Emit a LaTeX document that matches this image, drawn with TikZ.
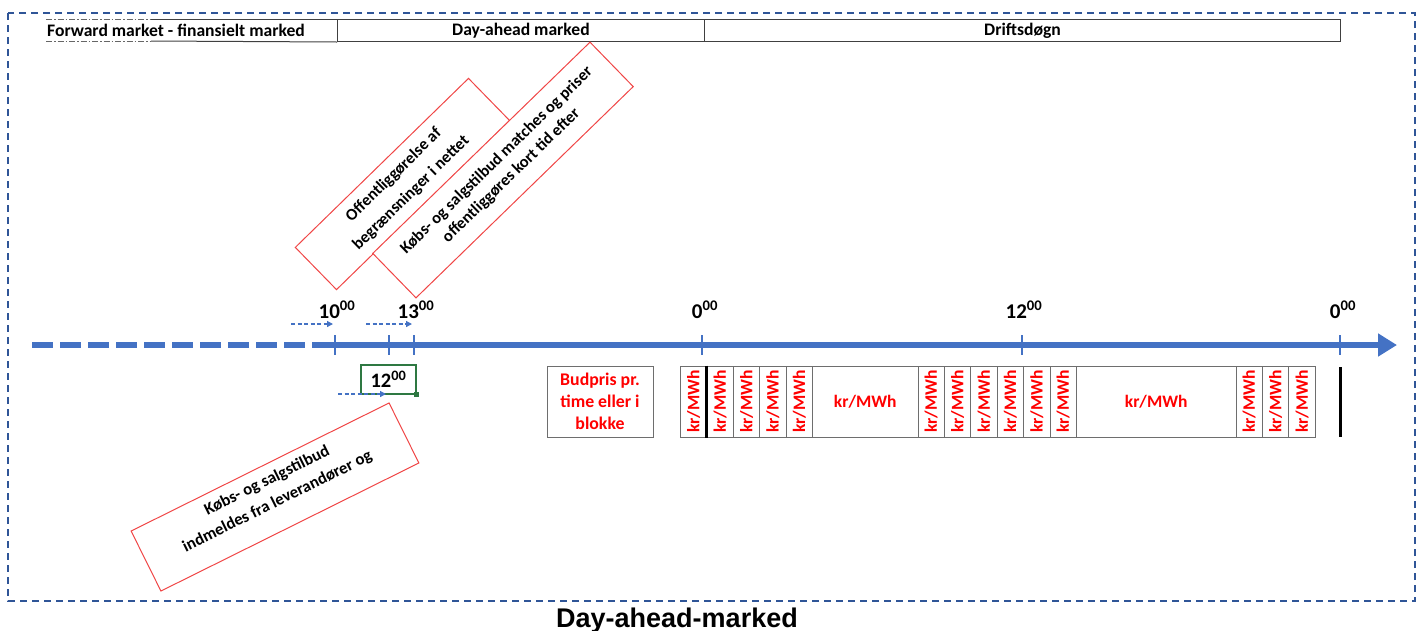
\documentclass[tikz,border=0pt]{standalone}
\usepackage{fontspec}
\setmainfont{Carlito}
\newfontfamily\capfont{Liberation Sans}
\usepackage{graphicx}
\usetikzlibrary{arrows.meta}
\definecolor{axisblue}{RGB}{68,114,196}
\definecolor{frameblue}{RGB}{47,85,151}
\definecolor{notered}{RGB}{240,70,70}
\definecolor{cellgray}{RGB}{110,110,110}
\definecolor{stampgreen}{RGB}{46,120,66}
\definecolor{pricered}{RGB}{255,0,0}
\begin{document}
\begin{tikzpicture}[x=1pt,y=-1pt,
  hdrtext/.style={font=\fontsize{17.6}{20}\selectfont\bfseries, inner sep=0pt},
  hdrcell/.style={draw=black!75, line width=1pt, minimum height=22pt, inner sep=0pt,
    anchor=north west, font=\fontsize{17.6}{20}\selectfont\bfseries},
  notebox/.style={draw=notered, line width=1pt, fill=white, inner sep=0pt},
  notetext/.style={inner sep=0pt, align=center},
  axisline/.style={axisblue, line width=5.5pt},
  tick/.style={axisblue, line width=2.2pt},
  timelabel/.style={anchor=base, inner sep=0pt, font=\fontsize{21}{24}\selectfont\bfseries},
  hint/.style={axisblue, line width=1.3pt, dash pattern=on 4pt off 2.5pt,
    -{Triangle[length=6pt,width=6pt]}},
  pricecell/.style={draw=cellgray, line width=1pt, minimum height=71pt, inner sep=0pt,
    anchor=west, text=pricered, font=\fontsize{17.5}{20}\selectfont\bfseries},
]
\useasboundingbox (0,0) rectangle (1421,630);

% outer frame
\draw[frameblue, line width=1.6pt, dash pattern=on 7pt off 5pt] (8,13) rectangle (1415,601);

% header row
\node[hdrcell, minimum width=367pt] (hdr2) at (337,19) {Day-ahead marked};
\node[hdrcell, minimum width=636pt] (hdr3) at (704,19) {Driftsdøgn};
\node[hdrtext] (hdr1) at (176,30) {Forward market - finansielt marked};
\coordinate (h1tl) at (46,19);
\coordinate (h1tm) at (151,19);
\coordinate (h1bl) at (46,41);
\coordinate (h1bm) at (151,41);
\draw[black!60, line width=1pt, dash pattern=on 6pt off 2pt on 1.5pt off 2pt] (h1tl) -- (h1tm);
\draw[black!60, line width=1pt, dash pattern=on 6pt off 2pt on 1.5pt off 2pt] (h1bl) -- (h1bm);
\draw[black!75, line width=1pt] (h1tm) -- (hdr2.north west);
\draw[black!75, line width=1pt] (h1bm) -- (hdr2.south west);

% rotated notes
\node[notebox, rotate=44.3, minimum width=242pt, minimum height=59pt] (n1) at (402.5,184) {};
\node[notetext, rotate=44.3, font=\fontsize{16.5}{25}\selectfont\bfseries] (n1t) at (n1.center)
  {Offentliggørelse af\\begrænsninger i nettet};
\node[notebox, rotate=44.2, minimum width=303pt, minimum height=62pt] (n2) at (503,170) {};
\node[notetext, rotate=44.2, font=\fontsize{16.5}{21}\selectfont\bfseries] (n2t) at (504,168)
  {Købs- og salgstilbud matches og priser\\offentliggøres kort tid efter};
\node[notebox, rotate=26.4, minimum width=288pt, minimum height=67pt] (n3) at (275,497) {};
\node[notetext, rotate=26.4, font=\fontsize{16.7}{23}\selectfont\bfseries] (n3t) at (272.3,491.6)
  {Købs- og salgstilbud\\indmeldes fra leverandører og};

% time axis
\coordinate (tstart) at (32,345);
\coordinate (tsolid) at (318,345);
\coordinate (tend) at (1397,345);
\coordinate (t10) at (335,345);
\coordinate (t12) at (389,345);
\coordinate (t13) at (414,345);
\coordinate (d0) at (702,345);
\coordinate (d12) at (1022,345);
\coordinate (d24) at (1340,345);
\draw[axisline, dash pattern=on 21pt off 7pt] (tstart) -- (tsolid);
\draw[axisline, -{Triangle[length=19pt,width=22pt]}] (tsolid) -- (tend);
\foreach \c in {t10,t12,t13,d0,d12,d24}
  \draw[tick] ([yshift=10pt]\c) -- ([yshift=-10pt]\c);

\node[timelabel] (l10) at (337,318) {10\textsuperscript{00}};
\node[timelabel] (l13) at (416,318) {13\textsuperscript{00}};
\node[timelabel] (ld0) at (705,318) {0\textsuperscript{00}};
\node[timelabel] (ld12) at (1024,318) {12\textsuperscript{00}};
\node[timelabel] (ld24) at (1343,318) {0\textsuperscript{00}};

% small lead-in arrows
\coordinate (a1s) at (291,324);
\coordinate (a1e) at (333,324);
\coordinate (a2s) at (366,324);
\coordinate (a2e) at (412,324);
\coordinate (a3s) at (338,394);
\coordinate (a3e) at (386,394);
\draw[hint] (a1s) -- (a1e);
\draw[hint] (a2s) -- (a2e);

% 12:00 stamp
\node[draw=stampgreen, line width=1.6pt, minimum width=55pt, minimum height=29pt, inner sep=0pt,
  font=\fontsize{20.5}{23}\selectfont\bfseries] (g12) at (388.5,379.5) {12\textsuperscript{00}};
\fill[stampgreen] ([shift={(-2.5pt,-2.5pt)}]g12.south east) rectangle ([shift={(2.5pt,2.5pt)}]g12.south east);
\draw[hint] (a3s) -- (a3e);

% bid price box
\node[draw=cellgray, line width=1pt, minimum width=106pt, minimum height=71pt, inner sep=0pt,
  align=center, text=pricered, font=\fontsize{17.8}{22}\selectfont\bfseries] (bud) at (600,401.5)
  {Budpris pr.\\time eller i\\blokke};

% hourly price table
\foreach \x [count=\i] in {680,706.4,732.8,759.2,785.6}
  \node[pricecell, minimum width=26.4pt] (ca\i) at (\x,401.5) {\rotatebox{90}{kr/MWh}};
\node[pricecell, minimum width=105.5pt] (cw1) at (812,401.5) {kr/MWh};
\foreach \x [count=\i] in {917.5,943.9,970.3,996.7,1023.1,1049.5}
  \node[pricecell, minimum width=26.4pt] (cb\i) at (\x,401.5) {\rotatebox{90}{kr/MWh}};
\node[pricecell, minimum width=159.6pt] (cw2) at (1075.9,401.5) {kr/MWh};
\foreach \x [count=\i] in {1235.5,1261.9,1288.3}
  \node[pricecell, minimum width=26.4pt] (cc\i) at (\x,401.5) {\rotatebox{90}{kr/MWh}};
\draw[black, line width=2.2pt] (ca2.north west) -- (ca2.south west);
\coordinate (endbartop) at (1340,367);
\coordinate (endbarbot) at (1340,437);
\draw[black, line width=3pt] (endbartop) -- (endbarbot);

% caption
\node[anchor=base, inner sep=0pt, font=\fontsize{27}{30}\selectfont\capfont\bfseries] (caption)
  at (677,627) {Day-ahead-marked};
\end{tikzpicture}
\end{document}
